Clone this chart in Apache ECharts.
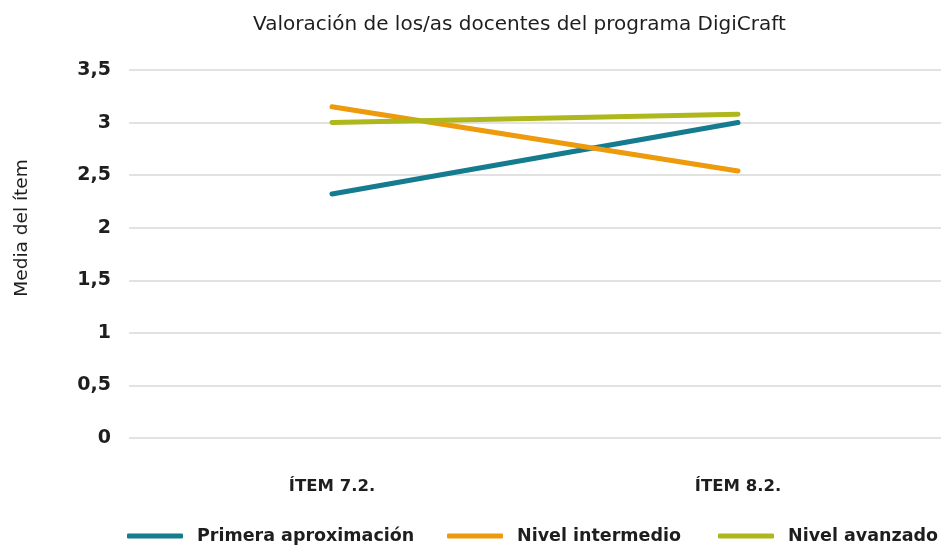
<!DOCTYPE html>
<html>
<head>
<meta charset="utf-8">
<script src="https://cdn.jsdelivr.net/npm/echarts@6/dist/echarts.min.js"></script>
<style>
  html, body { margin: 0; padding: 0; background: #ffffff; }
  #chart { width: 947px; height: 548px; }
</style>
</head>
<body>
<div id="chart"></div>
<script>
// Item categories on the x axis
const categories = ['ÍTEM 7.2.', 'ÍTEM 8.2.'];

// Mean rating per group
const primeraAproximacion = [2.32, 3.0];
const nivelIntermedio = [3.15, 2.54];
const nivelAvanzado = [3.0, 3.08];

const seriesNames = ['Primera aproximación', 'Nivel intermedio', 'Nivel avanzado'];
const seriesColors = ['#147C8E', '#ED9A0C', '#AEB71B'];

const FONT = '"DejaVu Sans", "Noto Sans", sans-serif';
const TEXT = '#1e1e1e';

const chart = echarts.init(document.getElementById('chart'), null, { renderer: 'canvas' });

function lineSeries(name, data, color) {
  return {
    name: name,
    type: 'line',
    data: data,
    symbol: 'none',
    lineStyle: { color: color, width: 5, cap: 'round' },
    itemStyle: { color: color },
    emphasis: { disabled: true }
  };
}

// One legend block per series, laid out left to right along the bottom
const legendLefts = [122, 442, 713];
const legends = seriesNames.map((name, i) => ({
  bottom: -2,
  left: legendLefts[i],
  icon: 'roundRect',
  itemWidth: 56,
  itemHeight: 5,
  selectedMode: false,
  textStyle: { fontFamily: FONT, fontSize: 17.5, fontWeight: 'bold', color: TEXT, padding: [0, 0, 0, 9] },
  data: [name]
}));

chart.setOption({
  animation: false,
  backgroundColor: '#ffffff',
  title: {
    text: 'Valoración de los/as docentes del programa DigiCraft',
    left: 248,
    top: 10,
    textStyle: { fontFamily: FONT, fontSize: 20, fontWeight: 'normal', color: TEXT }
  },
  grid: { left: 129, right: 6, top: 70, bottom: 110, containLabel: false },
  legend: legends,
  xAxis: {
    type: 'category',
    data: categories,
    boundaryGap: true,
    axisLine: { show: false },
    axisTick: { show: false },
    axisLabel: { margin: 40, fontFamily: FONT, fontSize: 16.5, fontWeight: 'bold', color: TEXT }
  },
  yAxis: {
    type: 'value',
    min: 0,
    max: 3.5,
    interval: 0.5,
    name: 'Media del ítem',
    nameLocation: 'middle',
    nameGap: 97,
    nameRotate: 90,
    nameTextStyle: { fontFamily: FONT, fontSize: 18.5, fontWeight: 'normal', color: TEXT, padding: [0, 0, 0, 52] },
    axisLine: { show: false },
    axisTick: { show: false },
    axisLabel: {
      margin: 18,
      fontFamily: FONT,
      fontSize: 19,
      fontWeight: 'bold',
      color: TEXT,
      formatter: v => String(v).replace('.', ',')
    },
    splitLine: { lineStyle: { color: '#d9d9d9', width: 1.5 } }
  },
  series: [
    lineSeries(seriesNames[0], primeraAproximacion, seriesColors[0]),
    lineSeries(seriesNames[1], nivelIntermedio, seriesColors[1]),
    lineSeries(seriesNames[2], nivelAvanzado, seriesColors[2])
  ]
});
</script>
</body>
</html>
